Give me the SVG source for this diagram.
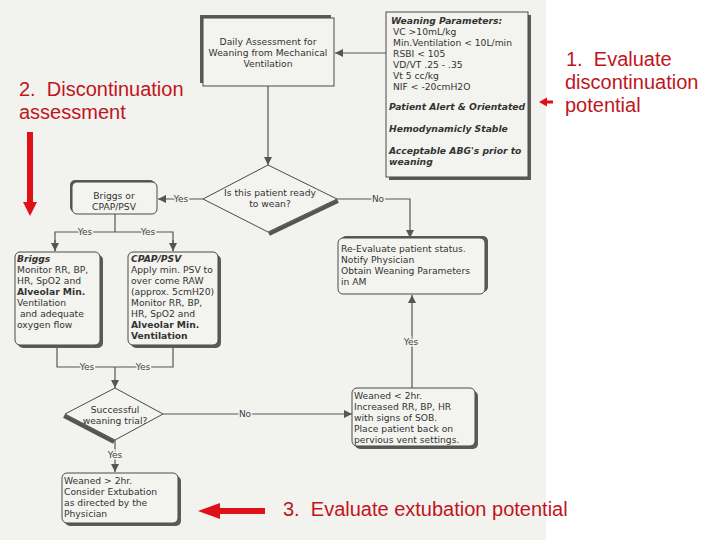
<svg xmlns="http://www.w3.org/2000/svg" width="720" height="540" viewBox="0 0 720 540">
<style>
.t{font-family:"DejaVu Sans",Verdana,sans-serif;font-size:9.2px;fill:#333}
.c{text-anchor:middle}
.bi{font-weight:bold;font-style:italic}
.b{font-weight:bold}
.box{fill:#f3f3ef;stroke:#4a4a4a;stroke-width:1}
.sh{fill:#5a5a5a}
.ln{stroke:#555;stroke-width:1.2;fill:none}
.lbl{font-family:"DejaVu Sans",Verdana,sans-serif;font-size:9px;fill:#444;text-anchor:middle;stroke:#f2f2ee;stroke-width:3;paint-order:stroke}
.red{font-family:"Liberation Sans",Arial,sans-serif;font-size:20px;fill:#c0151d}
.rf{fill:#e01018}
</style>
<defs>
<marker id="ah" markerUnits="userSpaceOnUse" markerWidth="9" markerHeight="9" refX="8" refY="4" orient="auto">
<path d="M0,0 L8,4 L0,8 z" fill="#555"/>
</marker>
</defs>
<rect x="0" y="0" width="720" height="540" fill="#ffffff"/>
<rect x="0" y="0" width="546" height="540" fill="#f2f2ee"/>

<g id="connectors">
<line class="ln" x1="386" y1="53" x2="335" y2="53" marker-end="url(#ah)"/>
<line class="ln" x1="268" y1="86" x2="268" y2="165" marker-end="url(#ah)"/>
<line class="ln" x1="203" y1="199" x2="158" y2="199" marker-end="url(#ah)"/>
<polyline class="ln" points="337,199 410,199 410,238" marker-end="url(#ah)"/>
<line class="ln" x1="115" y1="214" x2="115" y2="232"/>
<polyline class="ln" points="55,251 55,232 173,232 173,251"/>
<line class="ln" x1="55" y1="240" x2="55" y2="251" marker-end="url(#ah)"/>
<line class="ln" x1="173" y1="240" x2="173" y2="251" marker-end="url(#ah)"/>
<polyline class="ln" points="57,345 57,367 173,367 173,345"/>
<line class="ln" x1="115" y1="367" x2="115" y2="388" marker-end="url(#ah)"/>
<line class="ln" x1="163" y1="414" x2="352" y2="414" marker-end="url(#ah)"/>
<line class="ln" x1="115" y1="440" x2="115" y2="472" marker-end="url(#ah)"/>
<line class="ln" x1="412" y1="388" x2="412" y2="295" marker-end="url(#ah)"/>
<text class="lbl" x="181" y="202">Yes</text>
<text class="lbl" x="378" y="202">No</text>
<text class="lbl" x="85" y="235">Yes</text>
<text class="lbl" x="148" y="235">Yes</text>
<text class="lbl" x="87" y="370">Yes</text>
<text class="lbl" x="143" y="370">Yes</text>
<text class="lbl" x="245" y="417">No</text>
<text class="lbl" x="115" y="458">Yes</text>
<text class="lbl" x="411" y="345">Yes</text>
</g>

<g id="daily">
<rect class="sh" x="200" y="15" width="131" height="68"/>
<rect class="box" x="203" y="18" width="131" height="68"/>
<text class="t c" x="268" y="45">Daily Assessment for</text>
<text class="t c" x="268" y="56">Weaning from Mechanical</text>
<text class="t c" x="268" y="67">Ventilation</text>
</g>

<g id="weaning-params">
<rect class="sh" x="389" y="15" width="142" height="165"/>
<rect class="box" x="386" y="12" width="142" height="165"/>
<text class="t bi" x="391" y="24">Weaning Parameters:</text>
<text class="t" x="393" y="35">VC &gt;10mL/kg</text>
<text class="t" x="393" y="46">Min.Ventilation &lt; 10L/min</text>
<text class="t" x="393" y="57">RSBI &lt; 105</text>
<text class="t" x="393" y="68">VD/VT .25 - .35</text>
<text class="t" x="393" y="79">Vt 5 cc/kg</text>
<text class="t" x="393" y="90">NIF &lt; -20cmH2O</text>
<text class="t bi" x="389" y="110" font-size="8.6">Patient Alert &amp; Orientated</text>
<text class="t bi" x="389" y="132" font-size="8.6">Hemodynamicly Stable</text>
<text class="t bi" x="389" y="154" font-size="8.6">Acceptable ABG's prior to</text>
<text class="t bi" x="389" y="165" font-size="8.6">weaning</text>
</g>

<g id="ready">
<line x1="338" y1="201" x2="269" y2="234" stroke="#555" stroke-width="4"/>
<polygon class="box" points="268,165 337,199 268,232 203,199"/>
<text class="t c" x="270" y="196">Is this patient ready</text>
<text class="t c" x="270" y="207">to wean?</text>
</g>

<g id="briggs-or">
<rect class="sh" x="70" y="180" width="85" height="32" rx="5"/>
<rect class="box" x="72" y="182" width="85" height="32" rx="5"/>
<text class="t c" x="114" y="199">Briggs or</text>
<text class="t c" x="114" y="210">CPAP/PSV</text>
</g>

<g id="briggs">
<rect class="sh" x="18" y="255" width="85" height="93" rx="5"/>
<rect class="box" x="15" y="252" width="85" height="93" rx="5"/>
<text class="t bi" x="17" y="262">Briggs</text>
<text class="t" x="17" y="273">Monitor RR, BP,</text>
<text class="t" x="17" y="284">HR, SpO2 and</text>
<text class="t b" x="17" y="295">Alveolar Min.</text>
<text class="t" x="17" y="306">Ventilation</text>
<text class="t" x="17" y="317" xml:space="preserve"> and adequate</text>
<text class="t" x="17" y="328">oxygen flow</text>
</g>

<g id="cpap">
<rect class="sh" x="131" y="255" width="90" height="93" rx="5"/>
<rect class="box" x="128" y="252" width="90" height="93" rx="5"/>
<text class="t bi" x="131" y="262">CPAP/PSV</text>
<text class="t" x="131" y="273">Apply min. PSV to</text>
<text class="t" x="131" y="284">over come RAW</text>
<text class="t" x="131" y="295" font-size="8.9">(approx. 5cmH20)</text>
<text class="t" x="131" y="306">Monitor RR, BP,</text>
<text class="t" x="131" y="317">HR, SpO2 and</text>
<text class="t b" x="131" y="328">Alveolar Min.</text>
<text class="t b" x="131" y="339" font-size="8">Ventilation</text>
</g>

<g id="reevaluate">
<rect class="sh" x="341" y="236" width="147" height="56" rx="5"/>
<rect class="box" x="338" y="238" width="147" height="56" rx="5"/>
<text class="t" x="341" y="252">Re-Evaluate patient status.</text>
<text class="t" x="341" y="263">Notify Physician</text>
<text class="t" x="341" y="274">Obtain Weaning Parameters</text>
<text class="t" x="341" y="285">in AM</text>
</g>

<g id="trial">
<line x1="64" y1="416" x2="114" y2="442" stroke="#555" stroke-width="4"/>
<polygon class="box" points="115,388 163,414 115,440 65,414"/>
<text class="t c" x="115" y="413">Successful</text>
<text class="t c" x="115" y="424">weaning trial?</text>
</g>

<g id="weaned-less">
<rect class="sh" x="355" y="391" width="123" height="58" rx="5"/>
<rect class="box" x="352" y="388" width="123" height="58" rx="5"/>
<text class="t" x="354" y="399">Weaned &lt; 2hr.</text>
<text class="t" x="354" y="410">Increased RR, BP, HR</text>
<text class="t" x="354" y="421">with signs of SOB.</text>
<text class="t" x="354" y="432">Place patient back on</text>
<text class="t" x="354" y="443">pervious vent settings.</text>
</g>

<g id="weaned-more">
<rect class="sh" x="65" y="476" width="116" height="50" rx="5"/>
<rect class="box" x="62" y="473" width="116" height="50" rx="5"/>
<text class="t" x="64" y="484">Weaned &gt; 2hr.</text>
<text class="t" x="64" y="495">Consider Extubation</text>
<text class="t" x="64" y="506">as directed by the</text>
<text class="t" x="64" y="517">Physician</text>
</g>

<g id="annotations">
<text class="red" x="566" y="66" xml:space="preserve">1.  Evaluate</text>
<text class="red" x="565" y="89">discontinuation</text>
<text class="red" x="565" y="112">potential</text>
<rect class="rf" x="545" y="100.5" width="8" height="3"/>
<polygon class="rf" points="539,102 547,97.5 547,106.5"/>
<text class="red" x="19" y="96" xml:space="preserve">2.  Discontinuation</text>
<text class="red" x="19" y="119">assessment</text>
<rect class="rf" x="27" y="132" width="6" height="72"/>
<polygon class="rf" points="23,202 37,202 30,216"/>
<rect class="rf" x="218" y="508" width="47" height="6"/>
<polygon class="rf" points="198,511 220,503 220,519"/>
<text class="red" x="283" y="516" xml:space="preserve">3.  Evaluate extubation potential</text>
</g>
</svg>
